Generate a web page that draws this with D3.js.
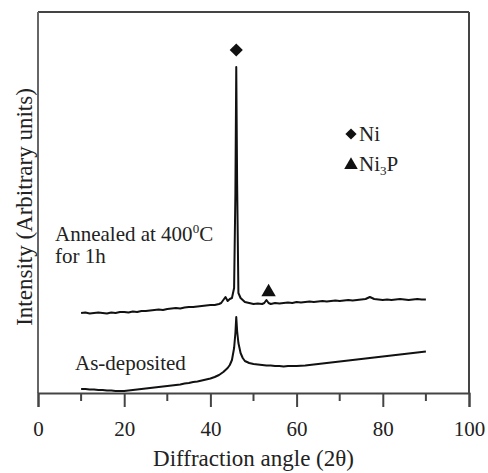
<!DOCTYPE html>
<html>
<head>
<meta charset="utf-8">
<script src="https://cdn.jsdelivr.net/npm/d3@7"></script>
<style>
  body { margin: 0; background: #fff; }
  text { font-family: "Liberation Serif", "Times New Roman", serif; fill: #222; }
</style>
</head>
<body>
<script>
// x ticks
var xTicks = [0, 20, 40, 60, 80, 100];
var xMinorTicks = [10, 30, 50, 70, 90];

// annealed at 400C for 1h (angle, arbitrary intensity)
var annealedAngle = [10, 11, 12, 13, 14, 15, 16, 17, 18, 19, 20, 21, 22, 23, 24, 25, 26, 27, 28, 29, 30,
  31, 32, 33, 34, 35, 36, 37, 38, 39, 40, 41, 42, 42.5, 43, 43.5, 44, 44.5, 45, 45.5, 45.8, 46, 46.2, 46.5,
  47, 47.5, 48, 49, 50, 51, 52, 52.5, 53, 53.5, 54, 55, 56, 57, 58, 59, 60, 61, 62, 63, 64, 65, 66, 67, 68,
  69, 70, 71, 72, 73, 74, 75, 76, 77, 78, 79, 80, 81, 82, 83, 84, 85, 86, 87, 88, 89, 90];
var annealedIntensity = [80, 80.5, 79.5, 80, 80.5, 80, 79.5, 80.5, 80, 81, 81, 80.5, 81.5, 81, 82, 82, 82.5, 83, 83.5, 83, 84,
  84.5, 85, 84.5, 85.5, 86, 86, 86.5, 87, 87.5, 88, 88, 89, 90, 93, 96, 92, 94, 95, 105, 200, 326, 210, 100,
  95, 93, 91, 90, 89, 89.5, 89, 90, 93, 90, 89, 90, 89.5, 90, 90.5, 90, 91, 90.5, 91, 91.5, 91, 91.5, 92, 91.5, 92,
  92.5, 92, 92.5, 93, 92.5, 93, 93.5, 94, 96, 94, 93.5, 93, 93.5, 93, 93.5, 94, 93.5, 93, 93.5, 94, 93.5, 93.5];

// as-deposited
var depositedAngle = [10, 11, 12, 13, 14, 15, 16, 17, 18, 19, 20, 21, 22, 23, 24, 25, 26, 27, 28, 29, 30,
  31, 32, 33, 34, 35, 36, 37, 38, 39, 40, 41, 42, 43, 44, 44.5, 45, 45.5, 45.8, 46, 46.2, 46.5, 47, 47.5, 48,
  49, 50, 51, 52, 53, 54, 55, 56, 57, 58, 59, 60, 62, 64, 66, 68, 70, 72, 74, 76, 78, 80, 82, 84, 86, 88, 90];
var depositedIntensity = [4, 4, 3.5, 3.5, 3, 3, 2.5, 2.5, 2, 2, 2, 2.5, 3, 3.5, 4, 4.5, 5, 5.5, 6, 6.5, 7,
  7.5, 8, 8.5, 9.5, 10, 11, 11.5, 12.5, 13.5, 14.5, 16, 18, 21, 25, 28, 33, 45, 60, 76, 62, 50, 40, 35, 32,
  30, 29, 28.5, 28, 27.5, 27.5, 27, 27, 26.5, 27, 27, 27, 27.5, 28.5, 29.5, 30.5, 31.5, 32.5, 33.5, 34.5, 35.5, 36.5, 37.5, 38.5, 39.5, 40.5, 41.5];

var legendLabels = ["Ni", "Ni3P"];

var width = 488, height = 473;
var svg = d3.select("body").append("svg")
  .attr("width", width)
  .attr("height", height);

var x = d3.scaleLinear().domain([0, 100]).range([38, 469]);
var y = d3.scaleLinear().domain([0, 381]).range([393, 12]);

var axisColor = "#444";

// frame: top, right, left
svg.append("line").attr("x1", x(0)).attr("x2", x(100)).attr("y1", y(381)).attr("y2", y(381))
  .attr("stroke", axisColor).attr("stroke-width", 2);
svg.append("line").attr("x1", x(100)).attr("x2", x(100)).attr("y1", y(381)).attr("y2", y(0))
  .attr("stroke", axisColor).attr("stroke-width", 2);
svg.append("line").attr("x1", x(0)).attr("x2", x(0)).attr("y1", y(381)).attr("y2", y(0))
  .attr("stroke", "#666").attr("stroke-width", 2);

// bottom axis
var xAxis = d3.axisBottom(x).tickValues(xTicks).tickSize(14).tickPadding(14).tickFormat(d3.format("d"));
var gx = svg.append("g").attr("transform", "translate(0," + y(0) + ")").call(xAxis);
gx.attr("font-family", null);
gx.select(".domain").attr("stroke", axisColor).attr("stroke-width", 2);
gx.selectAll(".tick line").attr("stroke", axisColor).attr("stroke-width", 2);
gx.selectAll(".tick text").attr("font-size", "21px").attr("fill", "#222")
  .style("font-family", "'Liberation Serif', serif");

gx.selectAll(".minor").data(xMinorTicks).enter().append("line")
  .attr("x1", d => x(d)).attr("x2", d => x(d)).attr("y1", 0).attr("y2", 8)
  .attr("stroke", axisColor).attr("stroke-width", 2);

// axis titles
svg.append("text").attr("x", (x(0) + x(100)) / 2).attr("y", 466)
  .attr("text-anchor", "middle").attr("font-size", "23px")
  .text("Diffraction angle (2\u03b8)");
svg.append("text").attr("transform", "translate(32," + 207 + ") rotate(-90)")
  .attr("text-anchor", "middle").attr("font-size", "23px")
  .text("Intensity (Arbitrary units)");

// curves
var line = d3.line().x(d => x(d[0])).y(d => y(d[1]));
svg.append("path").datum(annealedAngle.map((a, i) => [a, annealedIntensity[i]]))
  .attr("d", line).attr("fill", "none").attr("stroke", "#111").attr("stroke-width", 2)
  .attr("stroke-linejoin", "round");
svg.append("path").datum(depositedAngle.map((a, i) => [a, depositedIntensity[i]]))
  .attr("d", line).attr("fill", "none").attr("stroke", "#111").attr("stroke-width", 2)
  .attr("stroke-linejoin", "round");

// peak markers
var diamond = d3.symbol().type(d3.symbolDiamond2 || d3.symbolDiamond).size(110);
var triangle = d3.symbol().type(d3.symbolTriangle).size(90);
svg.append("path").attr("d", diamond()).attr("transform", "translate(" + x(46) + "," + y(343) + ")").attr("fill", "#111");
svg.append("path").attr("d", triangle()).attr("transform", "translate(" + x(53.5) + "," + y(101) + ")").attr("fill", "#111");

// legend
svg.append("path").attr("d", diamond.size(80)()).attr("transform", "translate(351,134)").attr("fill", "#111");
svg.append("text").attr("x", 359).attr("y", 141).attr("font-size", "21px").text(legendLabels[0]);
svg.append("path").attr("d", triangle.size(80)()).attr("transform", "translate(351,165)").attr("fill", "#111");
var t2 = svg.append("text").attr("x", 359).attr("y", 171).attr("font-size", "21px");
t2.append("tspan").text("Ni");
t2.append("tspan").attr("font-size", "13px").attr("dy", 4).text("3");
t2.append("tspan").attr("dy", -4).text("P");

// curve labels
var a1 = svg.append("text").attr("x", 55).attr("y", 241).attr("font-size", "21px");
a1.append("tspan").text("Annealed at 400");
a1.append("tspan").attr("font-size", "13px").attr("dy", -8).text("0");
a1.append("tspan").attr("dy", 8).text("C");
svg.append("text").attr("x", 55).attr("y", 263).attr("font-size", "21px").text("for 1h");
svg.append("text").attr("x", 75).attr("y", 370).attr("font-size", "21px").text("As-deposited");
</script>
</body>
</html>
